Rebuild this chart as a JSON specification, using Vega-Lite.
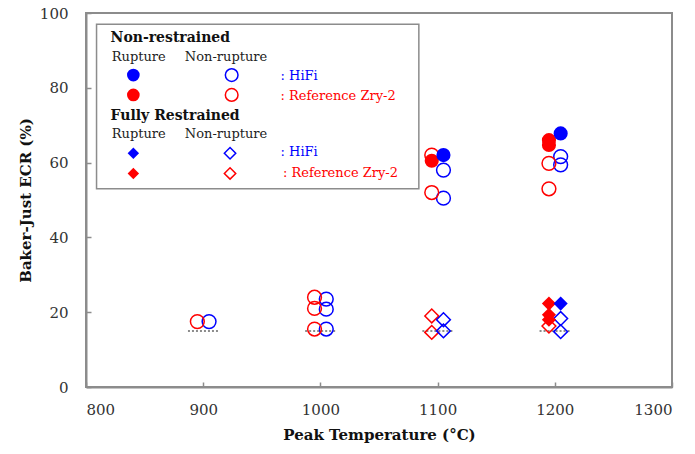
{
  "$schema": "https://vega.github.io/schema/vega-lite/v6.json",
  "width": 586,
  "height": 374,
  "autosize": {"type": "none"},
  "padding": {"left": 86, "top": 13, "right": 23, "bottom": 67},
  "background": "white",
  "data": {"values": [{}]},
  "config": {
    "view": {"stroke": "#8c8c8c", "strokeWidth": 2},
    "font": "DejaVu Serif",
    "axis": {
      "grid": false,
      "domainColor": "#8c8c8c",
      "domainWidth": 2,
      "tickColor": "#8c8c8c",
      "tickSize": -5,
      "tickWidth": 1.5,
      "labelFont": "DejaVu Serif",
      "labelFontSize": 15,
      "labelColor": "#333333",
      "titleFont": "DejaVu Serif",
      "titleFontSize": 15,
      "titleFontWeight": "bold",
      "titleColor": "#111111"
    }
  },
  "datasets": {
    "points": [
      {"temp": 905, "ecr": 17.5, "restraint": "Non-restrained", "material": "HiFi", "outcome": "Non-rupture"},
      {"temp": 1005, "ecr": 23.5, "restraint": "Non-restrained", "material": "HiFi", "outcome": "Non-rupture"},
      {"temp": 1005, "ecr": 20.8, "restraint": "Non-restrained", "material": "HiFi", "outcome": "Non-rupture"},
      {"temp": 1005, "ecr": 15.5, "restraint": "Non-restrained", "material": "HiFi", "outcome": "Non-rupture"},
      {"temp": 1105, "ecr": 58, "restraint": "Non-restrained", "material": "HiFi", "outcome": "Non-rupture"},
      {"temp": 1105, "ecr": 50.5, "restraint": "Non-restrained", "material": "HiFi", "outcome": "Non-rupture"},
      {"temp": 1205, "ecr": 61.6, "restraint": "Non-restrained", "material": "HiFi", "outcome": "Non-rupture"},
      {"temp": 1205, "ecr": 59.4, "restraint": "Non-restrained", "material": "HiFi", "outcome": "Non-rupture"},
      {"temp": 895, "ecr": 17.5, "restraint": "Non-restrained", "material": "Reference Zry-2", "outcome": "Non-rupture"},
      {"temp": 995, "ecr": 24, "restraint": "Non-restrained", "material": "Reference Zry-2", "outcome": "Non-rupture"},
      {"temp": 995, "ecr": 21, "restraint": "Non-restrained", "material": "Reference Zry-2", "outcome": "Non-rupture"},
      {"temp": 995, "ecr": 15.5, "restraint": "Non-restrained", "material": "Reference Zry-2", "outcome": "Non-rupture"},
      {"temp": 1095, "ecr": 62, "restraint": "Non-restrained", "material": "Reference Zry-2", "outcome": "Non-rupture"},
      {"temp": 1095, "ecr": 52, "restraint": "Non-restrained", "material": "Reference Zry-2", "outcome": "Non-rupture"},
      {"temp": 1195, "ecr": 59.8, "restraint": "Non-restrained", "material": "Reference Zry-2", "outcome": "Non-rupture"},
      {"temp": 1195, "ecr": 53, "restraint": "Non-restrained", "material": "Reference Zry-2", "outcome": "Non-rupture"},
      {"temp": 1095, "ecr": 19, "restraint": "Fully Restrained", "material": "Reference Zry-2", "outcome": "Non-rupture"},
      {"temp": 1095, "ecr": 14.6, "restraint": "Fully Restrained", "material": "Reference Zry-2", "outcome": "Non-rupture"},
      {"temp": 1195, "ecr": 16.3, "restraint": "Fully Restrained", "material": "Reference Zry-2", "outcome": "Non-rupture"},
      {"temp": 1105, "ecr": 18, "restraint": "Fully Restrained", "material": "HiFi", "outcome": "Non-rupture"},
      {"temp": 1105, "ecr": 15, "restraint": "Fully Restrained", "material": "HiFi", "outcome": "Non-rupture"},
      {"temp": 1205, "ecr": 18.3, "restraint": "Fully Restrained", "material": "HiFi", "outcome": "Non-rupture"},
      {"temp": 1205, "ecr": 14.8, "restraint": "Fully Restrained", "material": "HiFi", "outcome": "Non-rupture"},
      {"temp": 1095, "ecr": 60.5, "restraint": "Non-restrained", "material": "Reference Zry-2", "outcome": "Rupture"},
      {"temp": 1195, "ecr": 66, "restraint": "Non-restrained", "material": "Reference Zry-2", "outcome": "Rupture"},
      {"temp": 1195, "ecr": 64.7, "restraint": "Non-restrained", "material": "Reference Zry-2", "outcome": "Rupture"},
      {"temp": 1195, "ecr": 22.3, "restraint": "Fully Restrained", "material": "Reference Zry-2", "outcome": "Rupture"},
      {"temp": 1195, "ecr": 19.3, "restraint": "Fully Restrained", "material": "Reference Zry-2", "outcome": "Rupture"},
      {"temp": 1195, "ecr": 18, "restraint": "Fully Restrained", "material": "Reference Zry-2", "outcome": "Rupture"},
      {"temp": 1105, "ecr": 62, "restraint": "Non-restrained", "material": "HiFi", "outcome": "Rupture"},
      {"temp": 1205, "ecr": 67.8, "restraint": "Non-restrained", "material": "HiFi", "outcome": "Rupture"},
      {"temp": 1205, "ecr": 22.3, "restraint": "Fully Restrained", "material": "HiFi", "outcome": "Rupture"}
    ],
    "crit": [
      {"temp": 887, "temp2": 913, "ecr": 15},
      {"temp": 987, "temp2": 1013, "ecr": 15},
      {"temp": 1087, "temp2": 1113, "ecr": 15},
      {"temp": 1187, "temp2": 1213, "ecr": 15}
    ]
  },
  "layer": [
    {
      "data": {"name": "crit"},
      "mark": {"type": "rule", "color": "#8c8c8c", "strokeWidth": 2, "strokeDash": [2, 2]},
      "encoding": {
        "x": {"field": "temp", "type": "quantitative", "scale": {"domain": [800, 1300], "nice": false, "zero": false}, "axis": {"title": "Peak Temperature (°C)", "values": [800, 900, 1000, 1100, 1200, 1300], "format": "d", "labelPadding": 20, "titlePadding": 10}},
        "x2": {"field": "temp2"},
        "y": {"field": "ecr", "type": "quantitative", "scale": {"domain": [0, 100], "nice": false, "zero": false}, "axis": {"title": "Baker-Just ECR (%)", "values": [0, 20, 40, 60, 80, 100], "format": "d", "labelPadding": 23, "titlePadding": 6}}
      }
    },
    {
      "mark": {"type": "rect", "fill": "white", "stroke": "#8c8c8c", "strokeWidth": 1.5},
      "encoding": {
        "x": {"datum": 809, "type": "quantitative", "scale": {"domain": [800, 1300], "nice": false, "zero": false}},
        "x2": {"datum": 1084},
        "y": {"datum": 97, "type": "quantitative", "scale": {"domain": [0, 100], "nice": false, "zero": false}},
        "y2": {"datum": 53}
      }
    },
    {
      "data": {"name": "points"},
      "transform": [{"filter": "datum.outcome === 'Non-rupture'"}],
      "mark": {"type": "point", "filled": false, "strokeWidth": 1.5, "size": 190, "opacity": 1},
      "encoding": {
        "x": {"field": "temp", "type": "quantitative", "scale": {"domain": [800, 1300], "nice": false, "zero": false}, "axis": {"title": "Peak Temperature (°C)"}},
        "y": {"field": "ecr", "type": "quantitative", "scale": {"domain": [0, 100], "nice": false, "zero": false}, "axis": {"title": "Baker-Just ECR (%)"}},
        "shape": {"field": "restraint", "type": "nominal", "scale": {"domain": ["Non-restrained", "Fully Restrained"], "range": ["circle", "diamond"]}, "legend": null},
        "color": {"field": "material", "type": "nominal", "scale": {"domain": ["HiFi", "Reference Zry-2"], "range": ["#0000ff", "#ff0000"]}, "legend": null}
      }
    },
    {
      "data": {"name": "points"},
      "transform": [{"filter": "datum.outcome === 'Rupture'"}],
      "mark": {"type": "point", "filled": true, "size": 200, "opacity": 1},
      "encoding": {
        "x": {"field": "temp", "type": "quantitative", "scale": {"domain": [800, 1300], "nice": false, "zero": false}, "axis": {"title": "Peak Temperature (°C)"}},
        "y": {"field": "ecr", "type": "quantitative", "scale": {"domain": [0, 100], "nice": false, "zero": false}, "axis": {"title": "Baker-Just ECR (%)"}},
        "shape": {"field": "restraint", "type": "nominal", "legend": null},
        "color": {"field": "material", "type": "nominal", "legend": null}
      }
    },
    {
      "mark": {"type": "text", "text": "Non-restrained", "align": "left", "baseline": "middle", "fontWeight": "bold", "fontSize": 14, "color": "#111111"},
      "encoding": {"x": {"datum": 821, "type": "quantitative"}, "y": {"datum": 93.2, "type": "quantitative"}}
    },
    {
      "mark": {"type": "text", "text": "Fully Restrained", "align": "left", "baseline": "middle", "fontWeight": "bold", "fontSize": 14, "color": "#111111"},
      "encoding": {"x": {"datum": 821, "type": "quantitative"}, "y": {"datum": 72.5, "type": "quantitative"}}
    },
    {
      "mark": {"type": "text", "text": "Rupture", "align": "center", "baseline": "middle", "fontSize": 13, "color": "#222222"},
      "encoding": {"x": {"datum": 845, "type": "quantitative"}, "y": {"datum": 88.3, "type": "quantitative"}}
    },
    {
      "mark": {"type": "text", "text": "Non-rupture", "align": "center", "baseline": "middle", "fontSize": 13, "color": "#222222"},
      "encoding": {"x": {"datum": 919.5, "type": "quantitative"}, "y": {"datum": 88.3, "type": "quantitative"}}
    },
    {
      "mark": {"type": "text", "text": "Rupture", "align": "center", "baseline": "middle", "fontSize": 13, "color": "#222222"},
      "encoding": {"x": {"datum": 845, "type": "quantitative"}, "y": {"datum": 67.6, "type": "quantitative"}}
    },
    {
      "mark": {"type": "text", "text": "Non-rupture", "align": "center", "baseline": "middle", "fontSize": 13, "color": "#222222"},
      "encoding": {"x": {"datum": 919.5, "type": "quantitative"}, "y": {"datum": 67.6, "type": "quantitative"}}
    },
    {
      "mark": {"type": "text", "text": ": HiFi", "align": "left", "baseline": "middle", "fontSize": 13, "color": "#0000ff"},
      "encoding": {"x": {"datum": 966, "type": "quantitative"}, "y": {"datum": 83.2, "type": "quantitative"}}
    },
    {
      "mark": {"type": "text", "text": ": Reference Zry-2", "align": "left", "baseline": "middle", "fontSize": 13, "color": "#ff0000"},
      "encoding": {"x": {"datum": 966, "type": "quantitative"}, "y": {"datum": 77.9, "type": "quantitative"}}
    },
    {
      "mark": {"type": "text", "text": ": HiFi", "align": "left", "baseline": "middle", "fontSize": 13, "color": "#0000ff"},
      "encoding": {"x": {"datum": 966, "type": "quantitative"}, "y": {"datum": 62.8, "type": "quantitative"}}
    },
    {
      "mark": {"type": "text", "text": ": Reference Zry-2", "align": "left", "baseline": "middle", "fontSize": 13, "color": "#ff0000"},
      "encoding": {"x": {"datum": 968, "type": "quantitative"}, "y": {"datum": 57.2, "type": "quantitative"}}
    },
    {
      "mark": {"type": "point", "shape": "circle", "filled": true, "size": 160, "color": "#0000ff", "opacity": 1},
      "encoding": {"x": {"datum": 840.4, "type": "quantitative"}, "y": {"datum": 83.4, "type": "quantitative"}}
    },
    {
      "mark": {"type": "point", "shape": "circle", "filled": false, "strokeWidth": 1.5, "size": 160, "color": "#0000ff", "opacity": 1},
      "encoding": {"x": {"datum": 924.3, "type": "quantitative"}, "y": {"datum": 83.4, "type": "quantitative"}}
    },
    {
      "mark": {"type": "point", "shape": "circle", "filled": true, "size": 160, "color": "#ff0000", "opacity": 1},
      "encoding": {"x": {"datum": 840.4, "type": "quantitative"}, "y": {"datum": 78.1, "type": "quantitative"}}
    },
    {
      "mark": {"type": "point", "shape": "circle", "filled": false, "strokeWidth": 1.5, "size": 160, "color": "#ff0000", "opacity": 1},
      "encoding": {"x": {"datum": 924.3, "type": "quantitative"}, "y": {"datum": 78.1, "type": "quantitative"}}
    },
    {
      "mark": {"type": "point", "shape": "diamond", "filled": true, "size": 130, "color": "#0000ff", "opacity": 1},
      "encoding": {"x": {"datum": 840.4, "type": "quantitative"}, "y": {"datum": 62.5, "type": "quantitative"}}
    },
    {
      "mark": {"type": "point", "shape": "diamond", "filled": false, "strokeWidth": 1.5, "size": 130, "color": "#0000ff", "opacity": 1},
      "encoding": {"x": {"datum": 922.9, "type": "quantitative"}, "y": {"datum": 62.5, "type": "quantitative"}}
    },
    {
      "mark": {"type": "point", "shape": "diamond", "filled": true, "size": 130, "color": "#ff0000", "opacity": 1},
      "encoding": {"x": {"datum": 840.4, "type": "quantitative"}, "y": {"datum": 57.1, "type": "quantitative"}}
    },
    {
      "mark": {"type": "point", "shape": "diamond", "filled": false, "strokeWidth": 1.5, "size": 130, "color": "#ff0000", "opacity": 1},
      "encoding": {"x": {"datum": 922.9, "type": "quantitative"}, "y": {"datum": 57.1, "type": "quantitative"}}
    }
  ]
}
